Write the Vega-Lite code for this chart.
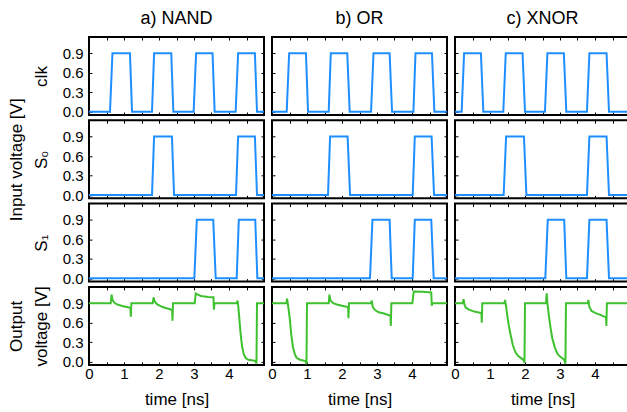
{
"$schema":"https://vega.github.io/schema/vega-lite/v6.json",
"padding":{"left":6,"top":8,"right":0,"bottom":0},
"data":{"values":[
{"g":"NAND","s":"clk","t":0,"v":0},{"g":"NAND","s":"clk","t":0.6,"v":0},{"g":"NAND","s":"clk","t":0.67,"v":0.9},{"g":"NAND","s":"clk","t":1.17,"v":0.9},{"g":"NAND","s":"clk","t":1.23,"v":0},{"g":"NAND","s":"clk","t":1.8,"v":0},{"g":"NAND","s":"clk","t":1.86,"v":0.9},{"g":"NAND","s":"clk","t":2.35,"v":0.9},{"g":"NAND","s":"clk","t":2.41,"v":0},{"g":"NAND","s":"clk","t":2.99,"v":0},{"g":"NAND","s":"clk","t":3.06,"v":0.9},{"g":"NAND","s":"clk","t":3.53,"v":0.9},{"g":"NAND","s":"clk","t":3.59,"v":0},{"g":"NAND","s":"clk","t":4.19,"v":0},{"g":"NAND","s":"clk","t":4.26,"v":0.9},{"g":"NAND","s":"clk","t":4.74,"v":0.9},{"g":"NAND","s":"clk","t":4.8,"v":0},{"g":"NAND","s":"clk","t":5,"v":0},
{"g":"NAND","s":"S0","t":0,"v":0},{"g":"NAND","s":"S0","t":1.8,"v":0},{"g":"NAND","s":"S0","t":1.86,"v":0.9},{"g":"NAND","s":"S0","t":2.37,"v":0.9},{"g":"NAND","s":"S0","t":2.43,"v":0},{"g":"NAND","s":"S0","t":4.2,"v":0},{"g":"NAND","s":"S0","t":4.26,"v":0.9},{"g":"NAND","s":"S0","t":4.74,"v":0.9},{"g":"NAND","s":"S0","t":4.8,"v":0},{"g":"NAND","s":"S0","t":5,"v":0},
{"g":"NAND","s":"S1","t":0,"v":0},{"g":"NAND","s":"S1","t":3.01,"v":0},{"g":"NAND","s":"S1","t":3.08,"v":0.9},{"g":"NAND","s":"S1","t":3.55,"v":0.9},{"g":"NAND","s":"S1","t":3.62,"v":0},{"g":"NAND","s":"S1","t":4.22,"v":0},{"g":"NAND","s":"S1","t":4.28,"v":0.9},{"g":"NAND","s":"S1","t":4.75,"v":0.9},{"g":"NAND","s":"S1","t":4.81,"v":0},{"g":"NAND","s":"S1","t":5,"v":0},
{"g":"NAND","s":"out","t":0,"v":0.9},{"g":"NAND","s":"out","t":0.62,"v":0.9},{"g":"NAND","s":"out","t":0.645,"v":1.03},{"g":"NAND","s":"out","t":0.67,"v":0.95},{"g":"NAND","s":"out","t":0.72,"v":0.91},{"g":"NAND","s":"out","t":0.8,"v":0.88},{"g":"NAND","s":"out","t":0.95,"v":0.855},{"g":"NAND","s":"out","t":1.17,"v":0.83},{"g":"NAND","s":"out","t":1.185,"v":0.83},{"g":"NAND","s":"out","t":1.195,"v":0.69},{"g":"NAND","s":"out","t":1.21,"v":0.9},{"g":"NAND","s":"out","t":1.82,"v":0.9},{"g":"NAND","s":"out","t":1.845,"v":0.99},{"g":"NAND","s":"out","t":1.87,"v":0.93},{"g":"NAND","s":"out","t":1.95,"v":0.88},{"g":"NAND","s":"out","t":2.1,"v":0.84},{"g":"NAND","s":"out","t":2.36,"v":0.8},{"g":"NAND","s":"out","t":2.375,"v":0.8},{"g":"NAND","s":"out","t":2.385,"v":0.63},{"g":"NAND","s":"out","t":2.4,"v":0.9},{"g":"NAND","s":"out","t":3.02,"v":0.9},{"g":"NAND","s":"out","t":3.05,"v":1.05},{"g":"NAND","s":"out","t":3.08,"v":1.04},{"g":"NAND","s":"out","t":3.2,"v":1.01},{"g":"NAND","s":"out","t":3.4,"v":0.995},{"g":"NAND","s":"out","t":3.555,"v":0.99},{"g":"NAND","s":"out","t":3.57,"v":0.8},{"g":"NAND","s":"out","t":3.585,"v":0.9},{"g":"NAND","s":"out","t":4.22,"v":0.9},{"g":"NAND","s":"out","t":4.245,"v":0.94},{"g":"NAND","s":"out","t":4.26,"v":0.88},{"g":"NAND","s":"out","t":4.29,"v":0.7},{"g":"NAND","s":"out","t":4.32,"v":0.5},{"g":"NAND","s":"out","t":4.35,"v":0.34},{"g":"NAND","s":"out","t":4.38,"v":0.22},{"g":"NAND","s":"out","t":4.42,"v":0.12},{"g":"NAND","s":"out","t":4.47,"v":0.06},{"g":"NAND","s":"out","t":4.55,"v":0.03},{"g":"NAND","s":"out","t":4.65,"v":0.02},{"g":"NAND","s":"out","t":4.76,"v":0.01},{"g":"NAND","s":"out","t":4.785,"v":-0.03},{"g":"NAND","s":"out","t":4.8,"v":0.9},{"g":"NAND","s":"out","t":5,"v":0.9},
{"g":"OR","s":"clk","t":0,"v":0},{"g":"OR","s":"clk","t":0.42,"v":0},{"g":"OR","s":"clk","t":0.49,"v":0.9},{"g":"OR","s":"clk","t":0.97,"v":0.9},{"g":"OR","s":"clk","t":1.03,"v":0},{"g":"OR","s":"clk","t":1.62,"v":0},{"g":"OR","s":"clk","t":1.68,"v":0.9},{"g":"OR","s":"clk","t":2.15,"v":0.9},{"g":"OR","s":"clk","t":2.22,"v":0},{"g":"OR","s":"clk","t":2.83,"v":0},{"g":"OR","s":"clk","t":2.9,"v":0.9},{"g":"OR","s":"clk","t":3.36,"v":0.9},{"g":"OR","s":"clk","t":3.43,"v":0},{"g":"OR","s":"clk","t":4.04,"v":0},{"g":"OR","s":"clk","t":4.1,"v":0.9},{"g":"OR","s":"clk","t":4.57,"v":0.9},{"g":"OR","s":"clk","t":4.64,"v":0},{"g":"OR","s":"clk","t":5,"v":0},
{"g":"OR","s":"S0","t":0,"v":0},{"g":"OR","s":"S0","t":1.6,"v":0},{"g":"OR","s":"S0","t":1.66,"v":0.9},{"g":"OR","s":"S0","t":2.16,"v":0.9},{"g":"OR","s":"S0","t":2.23,"v":0},{"g":"OR","s":"S0","t":4.02,"v":0},{"g":"OR","s":"S0","t":4.08,"v":0.9},{"g":"OR","s":"S0","t":4.56,"v":0.9},{"g":"OR","s":"S0","t":4.63,"v":0},{"g":"OR","s":"S0","t":5,"v":0},
{"g":"OR","s":"S1","t":0,"v":0},{"g":"OR","s":"S1","t":2.8,"v":0},{"g":"OR","s":"S1","t":2.87,"v":0.9},{"g":"OR","s":"S1","t":3.36,"v":0.9},{"g":"OR","s":"S1","t":3.42,"v":0},{"g":"OR","s":"S1","t":4.02,"v":0},{"g":"OR","s":"S1","t":4.08,"v":0.9},{"g":"OR","s":"S1","t":4.55,"v":0.9},{"g":"OR","s":"S1","t":4.62,"v":0},{"g":"OR","s":"S1","t":5,"v":0},
{"g":"OR","s":"out","t":0,"v":0.9},{"g":"OR","s":"out","t":0.41,"v":0.9},{"g":"OR","s":"out","t":0.43,"v":0.97},{"g":"OR","s":"out","t":0.45,"v":0.9},{"g":"OR","s":"out","t":0.48,"v":0.78},{"g":"OR","s":"out","t":0.51,"v":0.65},{"g":"OR","s":"out","t":0.55,"v":0.42},{"g":"OR","s":"out","t":0.6,"v":0.22},{"g":"OR","s":"out","t":0.65,"v":0.12},{"g":"OR","s":"out","t":0.7,"v":0.06},{"g":"OR","s":"out","t":0.8,"v":0.03},{"g":"OR","s":"out","t":0.96,"v":0.01},{"g":"OR","s":"out","t":0.985,"v":-0.04},{"g":"OR","s":"out","t":1.0,"v":0.9},{"g":"OR","s":"out","t":1.62,"v":0.9},{"g":"OR","s":"out","t":1.64,"v":1.03},{"g":"OR","s":"out","t":1.67,"v":0.94},{"g":"OR","s":"out","t":1.75,"v":0.9},{"g":"OR","s":"out","t":1.85,"v":0.88},{"g":"OR","s":"out","t":2.0,"v":0.86},{"g":"OR","s":"out","t":2.16,"v":0.84},{"g":"OR","s":"out","t":2.175,"v":0.84},{"g":"OR","s":"out","t":2.185,"v":0.67},{"g":"OR","s":"out","t":2.2,"v":0.9},{"g":"OR","s":"out","t":2.83,"v":0.9},{"g":"OR","s":"out","t":2.85,"v":0.94},{"g":"OR","s":"out","t":2.88,"v":0.84},{"g":"OR","s":"out","t":2.95,"v":0.79},{"g":"OR","s":"out","t":3.05,"v":0.76},{"g":"OR","s":"out","t":3.2,"v":0.74},{"g":"OR","s":"out","t":3.37,"v":0.71},{"g":"OR","s":"out","t":3.385,"v":0.71},{"g":"OR","s":"out","t":3.395,"v":0.55},{"g":"OR","s":"out","t":3.41,"v":0.9},{"g":"OR","s":"out","t":4.01,"v":0.9},{"g":"OR","s":"out","t":4.05,"v":1.08},{"g":"OR","s":"out","t":4.3,"v":1.075},{"g":"OR","s":"out","t":4.55,"v":1.065},{"g":"OR","s":"out","t":4.565,"v":0.86},{"g":"OR","s":"out","t":4.58,"v":0.9},{"g":"OR","s":"out","t":5,"v":0.9},
{"g":"XNOR","s":"clk","t":0,"v":0},{"g":"XNOR","s":"clk","t":0.19,"v":0},{"g":"XNOR","s":"clk","t":0.26,"v":0.9},{"g":"XNOR","s":"clk","t":0.74,"v":0.9},{"g":"XNOR","s":"clk","t":0.81,"v":0},{"g":"XNOR","s":"clk","t":1.38,"v":0},{"g":"XNOR","s":"clk","t":1.45,"v":0.9},{"g":"XNOR","s":"clk","t":1.93,"v":0.9},{"g":"XNOR","s":"clk","t":2.0,"v":0},{"g":"XNOR","s":"clk","t":2.57,"v":0},{"g":"XNOR","s":"clk","t":2.64,"v":0.9},{"g":"XNOR","s":"clk","t":3.11,"v":0.9},{"g":"XNOR","s":"clk","t":3.18,"v":0},{"g":"XNOR","s":"clk","t":3.77,"v":0},{"g":"XNOR","s":"clk","t":3.84,"v":0.9},{"g":"XNOR","s":"clk","t":4.33,"v":0.9},{"g":"XNOR","s":"clk","t":4.4,"v":0},{"g":"XNOR","s":"clk","t":5,"v":0},
{"g":"XNOR","s":"S0","t":0,"v":0},{"g":"XNOR","s":"S0","t":1.39,"v":0},{"g":"XNOR","s":"S0","t":1.46,"v":0.9},{"g":"XNOR","s":"S0","t":1.97,"v":0.9},{"g":"XNOR","s":"S0","t":2.04,"v":0},{"g":"XNOR","s":"S0","t":3.77,"v":0},{"g":"XNOR","s":"S0","t":3.84,"v":0.9},{"g":"XNOR","s":"S0","t":4.33,"v":0.9},{"g":"XNOR","s":"S0","t":4.4,"v":0},{"g":"XNOR","s":"S0","t":5,"v":0},
{"g":"XNOR","s":"S1","t":0,"v":0},{"g":"XNOR","s":"S1","t":2.58,"v":0},{"g":"XNOR","s":"S1","t":2.65,"v":0.9},{"g":"XNOR","s":"S1","t":3.12,"v":0.9},{"g":"XNOR","s":"S1","t":3.18,"v":0},{"g":"XNOR","s":"S1","t":3.77,"v":0},{"g":"XNOR","s":"S1","t":3.84,"v":0.9},{"g":"XNOR","s":"S1","t":4.33,"v":0.9},{"g":"XNOR","s":"S1","t":4.4,"v":0},{"g":"XNOR","s":"S1","t":5,"v":0},
{"g":"XNOR","s":"out","t":0,"v":0.9},{"g":"XNOR","s":"out","t":0.22,"v":0.9},{"g":"XNOR","s":"out","t":0.245,"v":0.96},{"g":"XNOR","s":"out","t":0.27,"v":0.88},{"g":"XNOR","s":"out","t":0.31,"v":0.83},{"g":"XNOR","s":"out","t":0.4,"v":0.8},{"g":"XNOR","s":"out","t":0.55,"v":0.77},{"g":"XNOR","s":"out","t":0.74,"v":0.75},{"g":"XNOR","s":"out","t":0.755,"v":0.75},{"g":"XNOR","s":"out","t":0.765,"v":0.6},{"g":"XNOR","s":"out","t":0.78,"v":0.9},{"g":"XNOR","s":"out","t":1.41,"v":0.9},{"g":"XNOR","s":"out","t":1.43,"v":0.95},{"g":"XNOR","s":"out","t":1.46,"v":0.85},{"g":"XNOR","s":"out","t":1.49,"v":0.72},{"g":"XNOR","s":"out","t":1.54,"v":0.55},{"g":"XNOR","s":"out","t":1.59,"v":0.41},{"g":"XNOR","s":"out","t":1.65,"v":0.26},{"g":"XNOR","s":"out","t":1.72,"v":0.15},{"g":"XNOR","s":"out","t":1.8,"v":0.09},{"g":"XNOR","s":"out","t":1.9,"v":0.05},{"g":"XNOR","s":"out","t":1.97,"v":0.02},{"g":"XNOR","s":"out","t":1.985,"v":-0.02},{"g":"XNOR","s":"out","t":2.0,"v":0.9},{"g":"XNOR","s":"out","t":2.6,"v":0.9},{"g":"XNOR","s":"out","t":2.62,"v":1.05},{"g":"XNOR","s":"out","t":2.64,"v":0.9},{"g":"XNOR","s":"out","t":2.68,"v":0.72},{"g":"XNOR","s":"out","t":2.73,"v":0.52},{"g":"XNOR","s":"out","t":2.78,"v":0.36},{"g":"XNOR","s":"out","t":2.85,"v":0.22},{"g":"XNOR","s":"out","t":2.93,"v":0.12},{"g":"XNOR","s":"out","t":3.02,"v":0.07},{"g":"XNOR","s":"out","t":3.12,"v":0.03},{"g":"XNOR","s":"out","t":3.155,"v":-0.03},{"g":"XNOR","s":"out","t":3.17,"v":0.9},{"g":"XNOR","s":"out","t":3.79,"v":0.9},{"g":"XNOR","s":"out","t":3.81,"v":0.95},{"g":"XNOR","s":"out","t":3.84,"v":0.84},{"g":"XNOR","s":"out","t":3.9,"v":0.78},{"g":"XNOR","s":"out","t":4.0,"v":0.75},{"g":"XNOR","s":"out","t":4.15,"v":0.72},{"g":"XNOR","s":"out","t":4.3,"v":0.685},{"g":"XNOR","s":"out","t":4.315,"v":0.685},{"g":"XNOR","s":"out","t":4.325,"v":0.55},{"g":"XNOR","s":"out","t":4.34,"v":0.9},{"g":"XNOR","s":"out","t":5,"v":0.9}
]},
"columns":3,
"spacing":{"row":5.3,"column":8},
"align":"each",
"bounds":"flush",
"concat":[
{"width":175,"height":78,"title":{"text":"a) NAND"},"transform":[{"filter":"datum.g==='NAND' && datum.s==='clk'"}],"layer":[
 {"mark":{"type":"line","color":"#1f8fff","strokeWidth":2},"encoding":{"x":{"field":"t","type":"quantitative","scale":{"domain":[0,5],"nice":false},"axis":{"orient":"bottom","values":[0,0.5,1,1.5,2,2.5,3,3.5,4,4.5],"labels":false,"title":null}},"y":{"field":"v","type":"quantitative","scale":{"domain":[-0.05,1.15],"nice":false,"zero":false},"axis":{"orient":"left","values":[0,0.3,0.6,0.9],"format":".1f","title":"clk"}}}},
 {"mark":{"type":"line","opacity":0},"encoding":{"x":{"field":"t","type":"quantitative","axis":{"orient":"top","values":[0,0.5,1,1.5,2,2.5,3,3.5,4,4.5],"labels":false,"title":null}},"y":{"field":"v","type":"quantitative","axis":{"orient":"right","values":[0,0.3,0.6,0.9],"labels":false,"title":null}}}}
],"resolve":{"axis":{"x":"independent","y":"independent"}}},
{"width":175,"height":78,"title":{"text":"b) OR"},"transform":[{"filter":"datum.g==='OR' && datum.s==='clk'"}],"layer":[
 {"mark":{"type":"line","color":"#1f8fff","strokeWidth":2},"encoding":{"x":{"field":"t","type":"quantitative","scale":{"domain":[0,5],"nice":false},"axis":{"orient":"bottom","values":[0,0.5,1,1.5,2,2.5,3,3.5,4,4.5],"labels":false,"title":null}},"y":{"field":"v","type":"quantitative","scale":{"domain":[-0.05,1.15],"nice":false,"zero":false},"axis":{"orient":"left","values":[0,0.3,0.6,0.9],"labels":false,"title":null}}}},
 {"mark":{"type":"line","opacity":0},"encoding":{"x":{"field":"t","type":"quantitative","axis":{"orient":"top","values":[0,0.5,1,1.5,2,2.5,3,3.5,4,4.5],"labels":false,"title":null}},"y":{"field":"v","type":"quantitative","axis":{"orient":"right","values":[0,0.3,0.6,0.9],"labels":false,"title":null}}}}
],"resolve":{"axis":{"x":"independent","y":"independent"}}},
{"width":175,"height":78,"title":{"text":"c) XNOR"},"transform":[{"filter":"datum.g==='XNOR' && datum.s==='clk'"}],"layer":[
 {"mark":{"type":"line","color":"#1f8fff","strokeWidth":2},"encoding":{"x":{"field":"t","type":"quantitative","scale":{"domain":[0,5],"nice":false},"axis":{"orient":"bottom","values":[0,0.5,1,1.5,2,2.5,3,3.5,4,4.5],"labels":false,"title":null}},"y":{"field":"v","type":"quantitative","scale":{"domain":[-0.05,1.15],"nice":false,"zero":false},"axis":{"orient":"left","values":[0,0.3,0.6,0.9],"labels":false,"title":null}}}},
 {"mark":{"type":"line","opacity":0},"encoding":{"x":{"field":"t","type":"quantitative","axis":{"orient":"top","values":[0,0.5,1,1.5,2,2.5,3,3.5,4,4.5],"labels":false,"title":null}},"y":{"field":"v","type":"quantitative","axis":{"orient":"right","values":[0,0.3,0.6,0.9],"labels":false,"title":null}}}}
],"resolve":{"axis":{"x":"independent","y":"independent"}}},
{"width":175,"height":78,"transform":[{"filter":"datum.g==='NAND' && datum.s==='S0'"}],"layer":[
 {"mark":{"type":"line","color":"#1f8fff","strokeWidth":2},"encoding":{"x":{"field":"t","type":"quantitative","scale":{"domain":[0,5],"nice":false},"axis":{"orient":"bottom","values":[0,0.5,1,1.5,2,2.5,3,3.5,4,4.5],"labels":false,"title":null}},"y":{"field":"v","type":"quantitative","scale":{"domain":[-0.05,1.15],"nice":false,"zero":false},"axis":{"orient":"left","values":[0,0.3,0.6,0.9],"format":".1f","title":["Input voltage [V]","S₀"]}}}},
 {"mark":{"type":"line","opacity":0},"encoding":{"x":{"field":"t","type":"quantitative","axis":{"orient":"top","values":[0,0.5,1,1.5,2,2.5,3,3.5,4,4.5],"labels":false,"title":null}},"y":{"field":"v","type":"quantitative","axis":{"orient":"right","values":[0,0.3,0.6,0.9],"labels":false,"title":null}}}}
],"resolve":{"axis":{"x":"independent","y":"independent"}}},
{"width":175,"height":78,"transform":[{"filter":"datum.g==='OR' && datum.s==='S0'"}],"layer":[
 {"mark":{"type":"line","color":"#1f8fff","strokeWidth":2},"encoding":{"x":{"field":"t","type":"quantitative","scale":{"domain":[0,5],"nice":false},"axis":{"orient":"bottom","values":[0,0.5,1,1.5,2,2.5,3,3.5,4,4.5],"labels":false,"title":null}},"y":{"field":"v","type":"quantitative","scale":{"domain":[-0.05,1.15],"nice":false,"zero":false},"axis":{"orient":"left","values":[0,0.3,0.6,0.9],"labels":false,"title":null}}}},
 {"mark":{"type":"line","opacity":0},"encoding":{"x":{"field":"t","type":"quantitative","axis":{"orient":"top","values":[0,0.5,1,1.5,2,2.5,3,3.5,4,4.5],"labels":false,"title":null}},"y":{"field":"v","type":"quantitative","axis":{"orient":"right","values":[0,0.3,0.6,0.9],"labels":false,"title":null}}}}
],"resolve":{"axis":{"x":"independent","y":"independent"}}},
{"width":175,"height":78,"transform":[{"filter":"datum.g==='XNOR' && datum.s==='S0'"}],"layer":[
 {"mark":{"type":"line","color":"#1f8fff","strokeWidth":2},"encoding":{"x":{"field":"t","type":"quantitative","scale":{"domain":[0,5],"nice":false},"axis":{"orient":"bottom","values":[0,0.5,1,1.5,2,2.5,3,3.5,4,4.5],"labels":false,"title":null}},"y":{"field":"v","type":"quantitative","scale":{"domain":[-0.05,1.15],"nice":false,"zero":false},"axis":{"orient":"left","values":[0,0.3,0.6,0.9],"labels":false,"title":null}}}},
 {"mark":{"type":"line","opacity":0},"encoding":{"x":{"field":"t","type":"quantitative","axis":{"orient":"top","values":[0,0.5,1,1.5,2,2.5,3,3.5,4,4.5],"labels":false,"title":null}},"y":{"field":"v","type":"quantitative","axis":{"orient":"right","values":[0,0.3,0.6,0.9],"labels":false,"title":null}}}}
],"resolve":{"axis":{"x":"independent","y":"independent"}}},
{"width":175,"height":78,"transform":[{"filter":"datum.g==='NAND' && datum.s==='S1'"}],"layer":[
 {"mark":{"type":"line","color":"#1f8fff","strokeWidth":2},"encoding":{"x":{"field":"t","type":"quantitative","scale":{"domain":[0,5],"nice":false},"axis":{"orient":"bottom","values":[0,0.5,1,1.5,2,2.5,3,3.5,4,4.5],"labels":false,"title":null}},"y":{"field":"v","type":"quantitative","scale":{"domain":[-0.05,1.15],"nice":false,"zero":false},"axis":{"orient":"left","values":[0,0.3,0.6,0.9],"format":".1f","title":"S₁"}}}},
 {"mark":{"type":"line","opacity":0},"encoding":{"x":{"field":"t","type":"quantitative","axis":{"orient":"top","values":[0,0.5,1,1.5,2,2.5,3,3.5,4,4.5],"labels":false,"title":null}},"y":{"field":"v","type":"quantitative","axis":{"orient":"right","values":[0,0.3,0.6,0.9],"labels":false,"title":null}}}}
],"resolve":{"axis":{"x":"independent","y":"independent"}}},
{"width":175,"height":78,"transform":[{"filter":"datum.g==='OR' && datum.s==='S1'"}],"layer":[
 {"mark":{"type":"line","color":"#1f8fff","strokeWidth":2},"encoding":{"x":{"field":"t","type":"quantitative","scale":{"domain":[0,5],"nice":false},"axis":{"orient":"bottom","values":[0,0.5,1,1.5,2,2.5,3,3.5,4,4.5],"labels":false,"title":null}},"y":{"field":"v","type":"quantitative","scale":{"domain":[-0.05,1.15],"nice":false,"zero":false},"axis":{"orient":"left","values":[0,0.3,0.6,0.9],"labels":false,"title":null}}}},
 {"mark":{"type":"line","opacity":0},"encoding":{"x":{"field":"t","type":"quantitative","axis":{"orient":"top","values":[0,0.5,1,1.5,2,2.5,3,3.5,4,4.5],"labels":false,"title":null}},"y":{"field":"v","type":"quantitative","axis":{"orient":"right","values":[0,0.3,0.6,0.9],"labels":false,"title":null}}}}
],"resolve":{"axis":{"x":"independent","y":"independent"}}},
{"width":175,"height":78,"transform":[{"filter":"datum.g==='XNOR' && datum.s==='S1'"}],"layer":[
 {"mark":{"type":"line","color":"#1f8fff","strokeWidth":2},"encoding":{"x":{"field":"t","type":"quantitative","scale":{"domain":[0,5],"nice":false},"axis":{"orient":"bottom","values":[0,0.5,1,1.5,2,2.5,3,3.5,4,4.5],"labels":false,"title":null}},"y":{"field":"v","type":"quantitative","scale":{"domain":[-0.05,1.15],"nice":false,"zero":false},"axis":{"orient":"left","values":[0,0.3,0.6,0.9],"labels":false,"title":null}}}},
 {"mark":{"type":"line","opacity":0},"encoding":{"x":{"field":"t","type":"quantitative","axis":{"orient":"top","values":[0,0.5,1,1.5,2,2.5,3,3.5,4,4.5],"labels":false,"title":null}},"y":{"field":"v","type":"quantitative","axis":{"orient":"right","values":[0,0.3,0.6,0.9],"labels":false,"title":null}}}}
],"resolve":{"axis":{"x":"independent","y":"independent"}}},
{"width":175,"height":78,"transform":[{"filter":"datum.g==='NAND' && datum.s==='out'"}],"layer":[
 {"mark":{"type":"line","color":"#3ec12e","strokeWidth":2},"encoding":{"x":{"field":"t","type":"quantitative","scale":{"domain":[0,5],"nice":false},"axis":{"orient":"bottom","values":[0,0.5,1,1.5,2,2.5,3,3.5,4,4.5],"format":".0f","labelExpr":"datum.value % 1 ? '' : datum.label","title":"time [ns]"}},"y":{"field":"v","type":"quantitative","scale":{"domain":[-0.05,1.15],"nice":false,"zero":false},"axis":{"orient":"left","values":[0,0.3,0.6,0.9],"format":".1f","title":["Output","voltage [V]"]}}}},
 {"mark":{"type":"line","opacity":0},"encoding":{"x":{"field":"t","type":"quantitative","axis":{"orient":"top","values":[0,0.5,1,1.5,2,2.5,3,3.5,4,4.5],"labels":false,"title":null}},"y":{"field":"v","type":"quantitative","axis":{"orient":"right","values":[0,0.3,0.6,0.9],"labels":false,"title":null}}}}
],"resolve":{"axis":{"x":"independent","y":"independent"}}},
{"width":175,"height":78,"transform":[{"filter":"datum.g==='OR' && datum.s==='out'"}],"layer":[
 {"mark":{"type":"line","color":"#3ec12e","strokeWidth":2},"encoding":{"x":{"field":"t","type":"quantitative","scale":{"domain":[0,5],"nice":false},"axis":{"orient":"bottom","values":[0,0.5,1,1.5,2,2.5,3,3.5,4,4.5],"format":".0f","labelExpr":"datum.value % 1 ? '' : datum.label","title":"time [ns]"}},"y":{"field":"v","type":"quantitative","scale":{"domain":[-0.05,1.15],"nice":false,"zero":false},"axis":{"orient":"left","values":[0,0.3,0.6,0.9],"labels":false,"title":null}}}},
 {"mark":{"type":"line","opacity":0},"encoding":{"x":{"field":"t","type":"quantitative","axis":{"orient":"top","values":[0,0.5,1,1.5,2,2.5,3,3.5,4,4.5],"labels":false,"title":null}},"y":{"field":"v","type":"quantitative","axis":{"orient":"right","values":[0,0.3,0.6,0.9],"labels":false,"title":null}}}}
],"resolve":{"axis":{"x":"independent","y":"independent"}}},
{"width":175,"height":78,"transform":[{"filter":"datum.g==='XNOR' && datum.s==='out'"}],"layer":[
 {"mark":{"type":"line","color":"#3ec12e","strokeWidth":2},"encoding":{"x":{"field":"t","type":"quantitative","scale":{"domain":[0,5],"nice":false},"axis":{"orient":"bottom","values":[0,0.5,1,1.5,2,2.5,3,3.5,4,4.5],"format":".0f","labelExpr":"datum.value % 1 ? '' : datum.label","title":"time [ns]"}},"y":{"field":"v","type":"quantitative","scale":{"domain":[-0.05,1.15],"nice":false,"zero":false},"axis":{"orient":"left","values":[0,0.3,0.6,0.9],"labels":false,"title":null}}}},
 {"mark":{"type":"line","opacity":0},"encoding":{"x":{"field":"t","type":"quantitative","axis":{"orient":"top","values":[0,0.5,1,1.5,2,2.5,3,3.5,4,4.5],"labels":false,"title":null}},"y":{"field":"v","type":"quantitative","axis":{"orient":"right","values":[0,0.3,0.6,0.9],"labels":false,"title":null}}}}
],"resolve":{"axis":{"x":"independent","y":"independent"}}}
],
"config":{
 "view":{"stroke":"black","strokeWidth":2},
 "axis":{"domain":false,"grid":false,"ticks":true,"tickSize":-3,"tickColor":"black","tickWidth":1,"minExtent":0,"labelFont":"Liberation Sans","labelFontSize":15,"labelColor":"black","labelPadding":9,"labelFlush":false,"titleFont":"Liberation Sans","titleFontSize":17,"titleFontWeight":"normal","titleColor":"black","titleLineHeight":25,"titlePadding":12},
 "axisX":{"labelPadding":5,"titlePadding":10},
 "title":{"font":"Liberation Sans","fontSize":18,"fontWeight":"normal","color":"black","anchor":"middle","offset":9}
}
}
